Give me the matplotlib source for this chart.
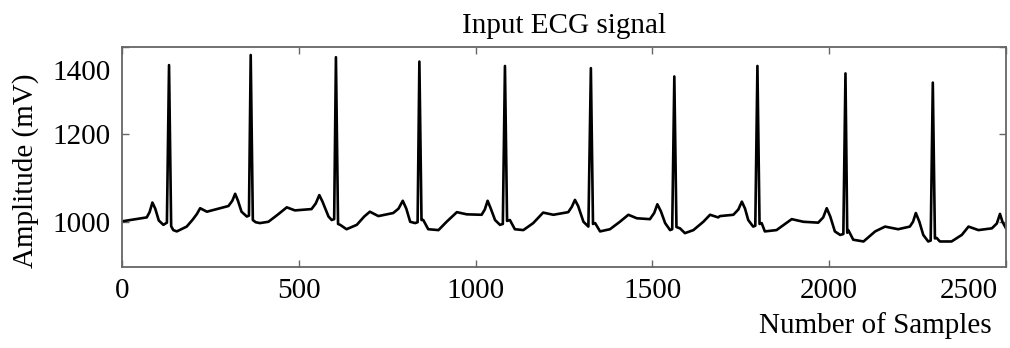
import matplotlib
matplotlib.use("Agg")
import matplotlib.pyplot as plt
from matplotlib.transforms import ScaledTranslation

# ECG trace: sample index and amplitude (mV)
samples = [
    0, 40, 70, 78, 86, 94, 104, 117, 127, 133, 139, 145, 155, 170, 183, 200, 212, 221,
    240, 268, 301, 312, 320, 328, 338, 353, 359, 364, 370, 378, 390, 414, 440, 466,
    489, 536, 548, 558, 567, 584, 593, 600, 605, 611, 617, 635, 664, 685, 701, 725,
    767, 782, 794, 804, 815, 829, 836, 841, 847, 852, 866, 895, 918, 947, 975, 1017,
    1026, 1034, 1043, 1055, 1069, 1077, 1083, 1089, 1097, 1111, 1135, 1163, 1191,
    1220, 1262, 1272, 1281, 1290, 1305, 1319, 1326, 1332, 1338, 1352, 1380, 1408,
    1432, 1456, 1493, 1505, 1514, 1524, 1536, 1550, 1556, 1562, 1568, 1578, 1592,
    1616, 1644, 1663, 1686, 1691, 1729, 1743, 1753, 1762, 1771, 1785, 1791, 1797,
    1803, 1809, 1818, 1851, 1894, 1927, 1969, 1983, 1993, 2003, 2016, 2031, 2040,
    2046, 2051, 2054, 2068, 2097, 2130, 2158, 2195, 2228, 2237, 2245, 2255, 2266,
    2280, 2287, 2293, 2299, 2304, 2313, 2346, 2375, 2394, 2422, 2460, 2474, 2483,
    2490, 2500,
]
amplitude = [
    1001, 1006, 1010, 1022, 1044, 1030, 1003, 993, 998, 1358, 990, 981, 978, 984, 989,
    1005, 1018, 1031, 1023, 1029, 1036, 1048, 1064, 1048, 1023, 1012, 1014, 1381,
    1004, 999, 997, 1000, 1016, 1033, 1026, 1029, 1042, 1061, 1046, 1012, 1004, 1006,
    1376, 995, 993, 983, 993, 1012, 1023, 1013, 1020, 1030, 1048, 1030, 1000, 997,
    999, 1366, 1004, 1004, 983, 981, 1000, 1022, 1017, 1016, 1028, 1048, 1030, 1004,
    993, 995, 1356, 1002, 1004, 983, 981, 997, 1021, 1016, 1022, 1034, 1050, 1036,
    1000, 989, 1351, 995, 997, 978, 983, 1000, 1016, 1008, 1006, 1020, 1040, 1024,
    997, 981, 983, 1332, 988, 985, 974, 981, 1000, 1016, 1010, 1013, 1016, 1028,
    1046, 1030, 1004, 989, 991, 1356, 995, 997, 978, 981, 1006, 1000, 998, 1010,
    1031, 1012, 978, 970, 972, 1339, 975, 981, 959, 955, 978, 989, 983, 989, 1000,
    1020, 1000, 970, 955, 957, 1318, 962, 963, 955, 955, 970, 989, 981, 985, 996,
    1018, 1000, 985,
]

x_ticks = [0, 500, 1000, 1500, 2000, 2500]
y_ticks = [1000, 1200, 1400]

plt.rcParams["font.family"] = ["Liberation Serif", "DejaVu Serif"]

fig = plt.figure(figsize=(10.1, 3.48), dpi=100)
ax = fig.add_axes([122 / 1010, 1 - 267.3 / 348, 884 / 1010, 220.6 / 348])

ax.plot(samples, amplitude, color="black", lw=1.9)

ax.set_xlim(0, 2500)
ax.set_ylim(896, 1400)
ax.set_xticks(x_ticks)
ax.set_yticks(y_ticks)
ax.tick_params(direction="in", length=5, width=1, color="#666666",
               top=True, right=True, labelsize=21, pad=8)

for side in ax.spines.values():
    side.set_color("#666666")
    side.set_linewidth(1.3)

ax.set_title("Input ECG signal", fontsize=21, pad=10)
ax.set_ylabel("Amplitude (mV)", fontsize=21)
ax.yaxis.set_label_coords(-0.094, 0.437)
ax.set_xlabel("Number of Samples", fontsize=21)
ax.xaxis.set_label_coords(0.852, -0.205)

# edge tick labels sit inside the frame extent
ylabels = ax.get_yticklabels()
ylabels[-1].set_transform(ylabels[-1].get_transform()
                          + ScaledTranslation(0, -23 / 100, fig.dpi_scale_trans))
xlabels = ax.get_xticklabels()
xlabels[-1].set_transform(xlabels[-1].get_transform()
                          + ScaledTranslation(-37 / 100, 0, fig.dpi_scale_trans))

fig.savefig("out.png", dpi=100)
